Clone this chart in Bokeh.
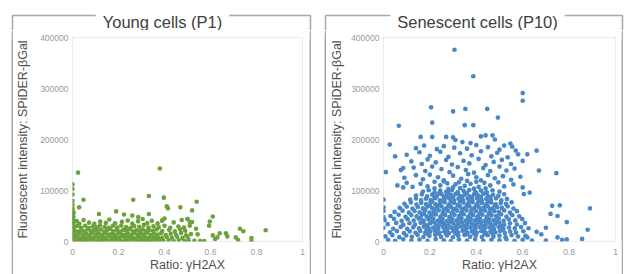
from bokeh.plotting import figure
from bokeh.models import Range1d, FixedTicker, NumeralTickFormatter, Label
from bokeh.layouts import row, column
from bokeh.embed import file_html
from bokeh.resources import INLINE

FONT = "Liberation Sans"

# ---------------- data ----------------
panel_titles = ["Young cells (P1)", "Senescent cells (P10)"]
x_label = "Ratio: γH2AX"
y_label = "Fluorescent intensity: SPiDER-βGal"
x_ticks = [0, 0.2, 0.4, 0.6, 0.8, 1]
y_ticks = [0, 100000, 200000, 300000, 400000]

young_outliers = [(0.0,112000),(0.0,103000),(0.0,92000),(0.0,80000),(0.0,72000),(0.024,135000),(0.38,143000),
    (0.048,82000),(0.029,67000),(0.264,82000),(0.332,89000),(0.397,86000),(0.41,69000),(0.415,65000),(0.469,67000),
    (0.54,78000),(0.52,61000),(0.115,54000),(0.19,59000),(0.224,53000),(0.26,51000),(0.286,48000),(0.332,54000),
    (0.39,41000),(0.61,49000),(0.597,39000),(0.594,31000),(0.537,25000),(0.544,14000),(0.555,1000),(0.573,1000),
    (0.61,12000),(0.62,5000),(0.63,8000),(0.64,16000),(0.667,16000),(0.673,10000),(0.71,8000),(0.728,25000),
    (0.743,20000),(0.72,3000),(0.778,7000),(0.778,1000),(0.84,22000),(0.50,44000),(0.51,38000),(0.52,38000)]
young_axis_column = [(0.0,45000),(0.0,50000),(0.0,55000),(0.0,60000),(0.003,42000),(0.004,48000),(0.002,52000),
    (0.005,57000),(0.0,65000),(0.0,3000),(0.0,9000),(0.0,18000),(0.0,25000),(0.0,33000),(0.0,38000)]
young_band = [
    (0.012,1500),(0.027,3000),(0.041,800),(0.056,2500),(0.069,1200),(0.083,3500),(0.097,900),(0.112,2200),(0.126,1400),
    (0.139,3200),(0.153,700),(0.168,2600),(0.181,1100),(0.196,3400),(0.21,1800),(0.224,600),(0.238,2900),(0.251,1300),
    (0.266,3600),(0.279,900),(0.293,2400),(0.307,1600),(0.321,3100),(0.334,800),(0.348,2000),(0.362,1200),(0.377,2800),
    (0.395,1000),(0.418,2300),(0.44,900),(0.463,1900),(0.487,700),(0.505,2600),(0.53,1200),
    (0.008,7000),(0.022,9500),(0.035,6500),(0.049,8800),(0.063,6200),(0.077,9200),(0.09,7400),(0.104,10000),(0.118,6800),
    (0.131,8600),(0.145,7200),(0.16,9800),(0.174,6400),(0.188,8900),(0.202,7600),(0.216,10200),(0.23,6900),(0.245,9100),
    (0.259,7800),(0.273,6300),(0.287,9600),(0.3,7100),(0.314,8400),(0.328,6600),(0.342,9300),(0.356,7500),(0.371,8200),
    (0.39,6700),(0.41,9000),(0.432,7300),(0.455,8600),(0.478,6800),(0.5,9400),
    (0.005,14000),(0.018,12500),(0.032,16000),(0.046,13000),(0.06,15500),(0.074,12200),(0.087,16800),(0.101,13500),
    (0.115,15200),(0.129,12600),(0.142,16400),(0.157,13800),(0.171,15000),(0.185,12400),(0.199,16600),(0.213,14200),
    (0.227,12800),(0.241,15800),(0.256,13100),(0.27,16200),(0.284,12900),(0.298,15400),(0.312,13600),(0.326,16900),
    (0.34,12700),(0.354,15100),(0.368,13400),(0.385,16000),(0.405,12600),(0.427,15300),(0.45,13200),(0.472,16500),
    (0.494,12300),(0.515,14800),
    (0.01,21000),(0.025,19500),(0.039,23000),(0.052,20000),(0.066,24000),(0.08,19800),(0.094,22500),(0.108,20500),
    (0.123,23500),(0.137,19200),(0.15,22000),(0.164,24500),(0.178,20200),(0.193,23000),(0.207,19600),(0.221,22800),
    (0.235,20800),(0.25,24200),(0.264,19400),(0.278,22200),(0.292,20600),(0.305,23800),(0.319,19900),(0.333,22600),
    (0.35,21000),(0.366,23400),(0.39,20500),(0.42,22800),(0.445,19800),(0.468,24000),(0.49,21200),
    (0.006,28000),(0.02,30500),(0.037,27000),(0.055,31000),(0.07,26500),(0.088,29500),(0.106,27800),(0.12,32000),
    (0.14,28500),(0.158,26800),(0.176,30800),(0.195,27500),(0.212,31500),(0.233,28200),(0.252,26600),(0.268,30200),
    (0.29,28800),(0.31,32500),(0.33,27200),(0.352,30000),(0.375,28000),(0.4,31000),(0.425,26800),(0.46,29500),
    (0.485,27200),(0.51,30800),
    (0.004,36000),(0.018,40000),(0.03,35000),(0.048,42000),(0.072,37000),(0.095,34500),(0.12,39000),(0.145,36500),
    (0.16,43000),(0.185,35500),(0.215,38500),(0.24,41000),(0.26,35000),(0.285,39500),(0.305,44000),(0.325,36000),
    (0.345,40500),(0.37,35500),(0.39,41000),(0.4,45000),(0.44,37500),(0.475,42000),(0.5,44000)]

senescent_outliers = [(0.306,376000),(0.387,324000),(0.60,291000),(0.60,276000),(0.066,227000),(0.205,263000),
    (0.30,255000),(0.353,260000),(0.447,260000),(0.493,243000),(0.21,233000),(0.35,228000),(0.387,228000),
    (0.027,190000),(0.01,136000),(0.05,167000),(0.085,144000),(0.16,205000),(0.21,205000),(0.27,205000),
    (0.30,204000),(0.31,199000),(0.34,195000),(0.375,193000),(0.42,206000),(0.44,208000),(0.47,208000),
    (0.48,200000),(0.547,192000),(0.555,186000),(0.66,178000),(0.62,171000),(0.67,139000),(0.745,134000),
    (0.605,93000),(0.63,96000),(0.727,70000),(0.76,71000),(0.72,54000),(0.75,50000),(0.89,65000),(0.79,38000),
    (0.88,23000),(0.856,5000),(0.79,4000),(0.77,3000),(0.75,8000),(0.70,2000),(0.68,14000),(0.66,19000),
    (0.70,27000),(0.62,8000),(0.0,82000),(0.0,67000),(0.0,48000),(0.0,60000),(0.085,106000)]
senescent_upper = [
    (0.14,183000),(0.175,188000),(0.23,181000),(0.26,187000),(0.305,184000),(0.36,182000),(0.4,189000),(0.45,185000),
    (0.5,180000),(0.52,188000),(0.57,178000),
    (0.1,170000),(0.155,175000),(0.2,168000),(0.245,176000),(0.28,166000),(0.33,173000),(0.38,169000),(0.42,177000),
    (0.465,167000),(0.49,174000),(0.535,165000),(0.58,171000),
    (0.12,157000),(0.165,152000),(0.19,161000),(0.225,155000),(0.27,160000),(0.295,151000),(0.345,158000),
    (0.37,153000),(0.41,162000),(0.44,150000),(0.475,156000),(0.51,160000),(0.55,152000),(0.6,158000),
    (0.075,140000),(0.13,145000),(0.18,138000),(0.21,147000),(0.25,142000),(0.285,136000),(0.32,146000),
    (0.355,140000),(0.39,135000),(0.43,144000),(0.46,138000),(0.5,147000),(0.53,139000),(0.565,143000),
    (0.09,125000),(0.14,130000),(0.17,122000),(0.2,131000),(0.235,126000),(0.26,120000),(0.3,129000),(0.335,123000),
    (0.365,132000),(0.4,126000),(0.42,120000),(0.45,130000),(0.48,124000),(0.515,128000),(0.55,121000),(0.59,127000),
    (0.06,110000),(0.1,115000),(0.125,107000),(0.16,113000),(0.19,108000),(0.22,117000),(0.245,110000),
    (0.275,114000),(0.3,106000),(0.325,116000),(0.35,109000),(0.375,113000),(0.41,107000),(0.435,115000),
    (0.46,110000),(0.495,116000),(0.52,108000),(0.56,112000),(0.6,106000),
    (0.22,104000),(0.28,103000),(0.33,104500),(0.39,103500),(0.44,104000),(0.26,118000),(0.36,119000),
    (0.31,112000),(0.4,117000)]
senescent_core = [
    (0.02,3000),(0.05,1500),(0.085,4200),(0.12,2000),(0.155,3600),(0.19,1200),(0.225,4500),(0.26,2400),(0.29,1000),
    (0.325,3800),(0.36,1800),(0.395,4400),(0.43,1300),(0.465,3300),(0.5,2100),(0.53,4000),(0.565,1400),(0.6,3100),
    (0.64,1700),
    (0.008,10000),(0.038,12500),(0.068,8500),(0.098,11800),(0.122,9200),(0.147,12800),(0.172,8800),(0.198,11200),
    (0.223,13000),(0.248,9000),(0.274,12000),(0.299,8300),(0.322,11500),(0.349,12900),(0.373,9400),(0.398,11900),
    (0.424,8700),(0.449,12300),(0.474,9600),(0.5,11400),(0.526,8400),(0.552,12600),(0.58,9800),(0.612,11000),
    (0.028,18000),(0.058,20500),(0.088,16500),(0.113,19800),(0.138,17200),(0.158,20800),(0.179,16800),(0.201,19300),
    (0.221,21000),(0.242,17000),(0.261,19900),(0.282,16400),(0.301,20300),(0.322,17600),(0.341,21200),(0.362,16900),
    (0.381,19700),(0.402,17400),(0.421,20600),(0.442,16600),(0.461,19400),(0.482,17800),(0.502,20900),(0.523,16700),
    (0.546,19600),(0.571,17300),(0.603,20100),
    (0.0,27000),(0.042,25000),(0.074,28600),(0.102,24800),(0.128,27800),(0.153,25600),(0.174,29000),(0.196,24400),
    (0.214,27400),(0.236,25200),(0.256,28800),(0.276,24600),(0.294,27200),(0.316,25800),(0.334,29200),(0.356,24200),
    (0.374,27600),(0.396,25400),(0.414,28400),(0.436,24900),(0.456,27900),(0.476,25100),(0.496,28700),(0.517,24500),
    (0.541,27300),(0.566,25700),(0.593,28200),(0.625,26000),
    (0.018,34000),(0.055,36500),(0.085,32500),(0.112,35800),(0.136,33200),(0.16,36800),(0.18,32800),(0.2,35300),
    (0.22,37000),(0.24,33000),(0.26,35900),(0.28,32400),(0.3,36300),(0.32,33600),(0.34,37200),(0.36,32900),
    (0.38,35700),(0.4,33400),(0.42,36600),(0.44,32600),(0.46,35400),(0.48,33800),(0.5,36900),(0.52,32700),
    (0.545,35600),(0.575,33300),(0.61,36000),
    (0.005,42000),(0.045,44500),(0.078,40500),(0.104,43800),(0.13,41200),(0.152,44800),(0.173,40800),(0.194,43300),
    (0.215,45000),(0.235,41000),(0.255,43900),(0.275,40400),(0.296,44300),(0.315,41600),(0.336,45200),(0.355,40900),
    (0.376,43700),(0.395,41400),(0.416,44600),(0.435,40600),(0.456,43400),(0.475,41800),(0.497,44900),(0.518,40700),
    (0.54,43600),(0.568,41300),(0.598,44000),
    (0.03,50000),(0.065,52500),(0.095,48500),(0.12,51800),(0.143,49200),(0.165,52800),(0.186,48800),(0.206,51300),
    (0.226,53000),(0.246,49000),(0.266,51900),(0.286,48400),(0.306,52300),(0.326,49600),(0.346,53200),(0.366,48900),
    (0.386,51700),(0.406,49400),(0.426,52600),(0.446,48600),(0.466,51400),(0.486,49800),(0.507,52900),(0.53,48700),
    (0.555,51600),(0.585,49300),
    (0.048,58000),(0.082,60500),(0.11,56500),(0.134,59800),(0.156,57200),(0.177,60800),(0.198,56800),(0.218,59300),
    (0.238,61000),(0.258,57000),(0.278,59900),(0.298,56400),(0.318,60300),(0.338,57600),(0.358,61200),(0.378,56900),
    (0.398,59700),(0.418,57400),(0.438,60600),(0.458,56600),(0.478,59400),(0.498,57800),(0.52,60900),(0.545,56700),
    (0.575,59500),
    (0.07,66000),(0.1,68500),(0.125,64500),(0.148,67800),(0.17,65200),(0.19,68800),(0.21,64800),(0.23,67300),
    (0.25,69000),(0.27,65000),(0.29,67900),(0.31,64400),(0.33,68300),(0.35,65600),(0.37,69200),(0.39,64900),
    (0.41,67700),(0.43,65400),(0.45,68600),(0.47,64600),(0.49,67400),(0.51,65800),(0.535,68900),(0.56,64700),
    (0.09,74000),(0.118,76500),(0.142,72500),(0.163,75800),(0.184,73200),(0.204,76800),(0.224,72800),(0.244,75300),
    (0.264,77000),(0.284,73000),(0.304,75900),(0.324,72400),(0.344,76300),(0.364,73600),(0.384,77200),(0.404,72900),
    (0.424,75700),(0.444,73400),(0.464,76600),(0.484,72600),(0.505,75400),(0.528,73800),(0.552,76900),
    (0.115,82000),(0.14,84500),(0.162,80500),(0.183,83800),(0.203,81200),(0.223,84800),(0.243,80800),(0.263,83300),
    (0.283,85000),(0.303,81000),(0.323,83900),(0.343,80400),(0.363,84300),(0.383,81600),(0.403,85200),(0.423,80900),
    (0.443,83700),(0.463,81400),(0.485,84600),(0.508,80600),(0.532,83400),
    (0.14,90000),(0.165,92500),(0.188,88500),(0.21,91800),(0.23,89200),(0.25,92800),(0.27,88800),(0.29,91300),
    (0.31,93000),(0.33,89000),(0.35,91900),(0.37,88400),(0.39,92300),(0.41,89600),(0.43,93200),(0.45,88900),
    (0.472,91700),(0.495,89400),(0.52,92600),
    (0.17,98000),(0.195,100500),(0.22,96500),(0.245,99800),(0.27,97200),(0.295,100800),(0.32,96800),(0.345,99300),
    (0.37,101000),(0.395,97000),(0.42,99900),(0.445,96400),(0.47,100300),(0.5,97600)]
senescent_core_fill = [
    (0.19,14500),(0.235,15200),(0.27,14200),(0.31,15600),(0.355,14000),(0.39,15400),(0.435,14600),(0.47,15000),
    (0.185,22500),(0.228,23000),(0.268,22200),(0.312,23400),(0.35,22600),(0.392,23100),(0.43,22300),(0.468,22900),
    (0.51,22400),
    (0.19,30500),(0.23,31000),(0.27,30200),(0.31,31300),(0.35,30600),(0.39,31100),(0.43,30300),(0.47,30900),(0.51,30400),
    (0.17,38500),(0.21,39200),(0.25,38300),(0.29,39400),(0.33,38700),(0.37,39100),(0.41,38400),(0.45,39300),(0.49,38600),
    (0.16,46500),(0.2,47200),(0.245,46300),(0.285,47400),(0.325,46700),(0.365,47100),(0.405,46400),(0.445,47300),
    (0.49,46600),
    (0.175,54500),(0.215,55200),(0.255,54300),(0.295,55400),(0.335,54700),(0.375,55100),(0.415,54400),(0.455,55300),
    (0.5,54600),
    (0.18,62500),(0.22,63200),(0.26,62300),(0.3,63400),(0.34,62700),(0.38,63100),(0.42,62400),(0.46,63300),
    (0.2,70500),(0.24,71200),(0.28,70300),(0.32,71400),(0.36,70700),(0.4,71100),(0.44,70400),(0.48,71300),
    (0.21,78500),(0.25,79200),(0.29,78300),(0.33,79400),(0.37,78700),(0.41,79100),(0.45,78400),
    (0.22,86500),(0.26,87200),(0.3,86300),(0.34,87400),(0.38,86700),(0.42,87100),(0.46,86400),
    (0.24,94500),(0.28,95200),(0.32,94300),(0.36,95400),(0.4,94700),(0.44,95100)]

young_color = "#6ca23c"
senescent_color = "#4a87c6"
FRAME_COLOR = "#a8a8a8"

PAGE_H = 274
STRIP_H = 30          # height of the strip that holds the panel title and the top of the frame
LOWER_H = PAGE_H - STRIP_H
TOP, FRAME_H = 37, 204
LINE_W = 2            # width of the strips that form the vertical frame lines


def blank(width, height, x0, x1, y0, y1, fill="white"):
    s = figure(width=width, height=height, x_range=Range1d(x0, x1), y_range=Range1d(y0, y1),
               min_border_left=0, min_border_right=0, min_border_top=0, min_border_bottom=0,
               x_axis_type=None, y_axis_type=None, toolbar_location=None, output_backend="svg")
    s.outline_line_color = None
    s.grid.visible = False
    s.background_fill_color = fill
    s.border_fill_color = fill
    return s


def scatter_panel(points, color, size, width, b_left, b_right, ylabel_standoff):
    p = figure(width=width, height=LOWER_H, x_range=Range1d(0, 1), y_range=Range1d(0, 400000),
               min_border_left=b_left, min_border_right=b_right, min_border_top=TOP - STRIP_H,
               min_border_bottom=LOWER_H - (TOP - STRIP_H) - FRAME_H,
               output_backend="svg", toolbar_location=None)
    p.grid.visible = False
    p.outline_line_color = "#ebebeb"
    p.background_fill_color = "white"
    p.border_fill_color = "white"
    for ax in (p.xaxis[0], p.yaxis[0]):
        ax.axis_line_color = None
        ax.major_tick_line_color = None
        ax.minor_tick_line_color = None
        ax.major_tick_out = 0
        ax.major_tick_in = 0
        ax.minor_tick_out = 0
        ax.minor_tick_in = 0
        ax.major_label_text_font = FONT
        ax.major_label_text_font_size = "8.5px"
        ax.major_label_text_color = "#9a9a9a"
        ax.axis_label_text_font = FONT
        ax.axis_label_text_font_size = "12.5px"
        ax.axis_label_text_font_style = "normal"
        ax.axis_label_text_color = "#505050"
    p.xaxis.ticker = FixedTicker(ticks=x_ticks)
    p.yaxis.ticker = FixedTicker(ticks=y_ticks)
    p.xaxis.formatter = NumeralTickFormatter(format="0.[0]")
    p.yaxis.formatter = NumeralTickFormatter(format="0")
    p.xaxis.major_label_standoff = 7
    p.yaxis.major_label_standoff = 4
    p.xaxis.axis_label = x_label
    p.xaxis.axis_label_standoff = 0
    p.yaxis.axis_label = y_label
    p.yaxis.axis_label_standoff = ylabel_standoff

    xs = [pt[0] for pt in points]
    ys = [pt[1] for pt in points]
    p.scatter(xs, ys, size=size, color=color, line_color=None)
    return p


def panel(title, points, color, size, x_start, x_end, box_l, box_r, title_x, plot_l, plot_r, ylabel_standoff):
    # top strip: title sitting on the frame's top line (drawn in page pixel coordinates)
    top = blank(x_end - x_start, STRIP_H, x_start, x_end, STRIP_H, 0)
    top.line(x=[box_l, box_l, box_r, box_r], y=[STRIP_H + 1, 15, 15, STRIP_H + 1],
             line_color=FRAME_COLOR, line_width=1.5)
    top.add_layout(Label(x=title_x, y=21, text=title, text_align="center", text_baseline="alphabetic",
                         text_font=FONT, text_font_size="16.5px", text_color="#404040",
                         background_fill_color="white", padding=7))
    # lower part: white gap | grey line strip | scatter | grey line strip | white gap
    gap_l = box_l - 1 - x_start
    gap_r = x_end - (box_r + 1)
    parts = []
    if gap_l > 0:
        parts.append(blank(gap_l, LOWER_H, 0, 1, 0, 1))
    parts.append(blank(LINE_W, LOWER_H, 0, 1, 0, 1, fill=FRAME_COLOR))
    mid_start = box_l + 1
    mid_end = box_r - 1
    parts.append(scatter_panel(points, color, size, mid_end - mid_start, plot_l - mid_start, mid_end - plot_r,
                               ylabel_standoff))
    parts.append(blank(LINE_W, LOWER_H, 0, 1, 0, 1, fill=FRAME_COLOR))
    if gap_r > 0:
        parts.append(blank(gap_r, LOWER_H, 0, 1, 0, 1))
    return column(top, row(*parts, spacing=0), spacing=0)


left = panel(panel_titles[0], young_band + young_axis_column + young_outliers, young_color, 4.6,
             0, 317, 12, 310, 162, 71, 302, 7)
right = panel(panel_titles[1], senescent_core + senescent_core_fill + senescent_upper + senescent_outliers,
              senescent_color, 4.7, 317, 629, 325, 622, 477, 383, 615, 4)

layout = row(left, right, spacing=0)
open("out.html", "w").write(file_html(layout, INLINE))
